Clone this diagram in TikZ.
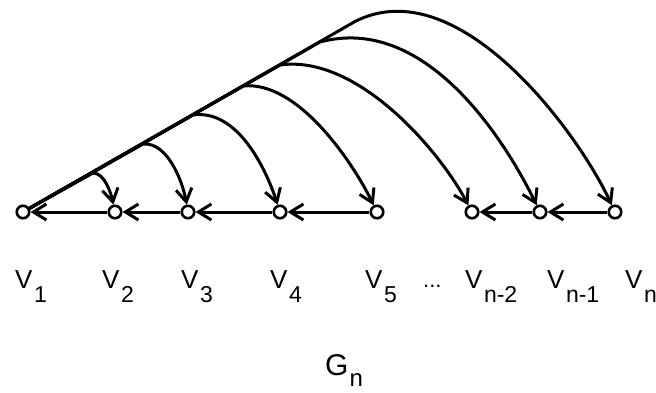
\documentclass[tikz,border=0pt]{standalone}
\usepackage{fontspec}
\setmainfont{Liberation Sans}
\usetikzlibrary{arrows.meta}
\newcommand{\vlab}[1]{\fontsize{26}{26}\selectfont V\kern1.5pt\raisebox{-14pt}{\fontsize{23}{23}\selectfont #1}}
\begin{document}
\begin{tikzpicture}[x=1pt,y=1pt,
  vert/.style={circle,draw,line width=2.6pt,minimum size=12.5pt,inner sep=0pt,fill=white},
  edge/.style={line width=3pt,-{Straight Barb[length=13pt,width=16pt]}},
  lab/.style={anchor=base west,inner sep=0pt}]
\useasboundingbox (0,0) rectangle (656,-392);
% vertices
\node[vert] (v1) at (23,-212) {};
\node[vert] (v2) at (115,-212) {};
\node[vert] (v3) at (188,-212) {};
\node[vert] (v4) at (280,-212) {};
\node[vert] (v5) at (377,-212) {};
\node[vert] (v6) at (472,-212) {};
\node[vert] (v7) at (540,-212) {};
\node[vert] (v8) at (615,-212) {};
% branch points along the main line
\coordinate (b2) at (93,-173);
\coordinate (b3) at (143,-144);
\coordinate (b4) at (193,-115);
\coordinate (b5) at (243,-86);
\coordinate (b6) at (280,-65);
\coordinate (b7) at (320,-42);
\coordinate (b8) at (355,-21.5);
% horizontal edges
\draw[edge] (v2) -- (v1);
\draw[edge] (v3) -- (v2);
\draw[edge] (v4) -- (v3);
\draw[edge] (v5) -- (v4);
\draw[edge] (v7) -- (v6);
\draw[edge] (v8) -- (v7);
% arcs from v1
\draw[edge] (v1) -- (b2) .. controls +(0:12) and +(102:18) .. (v2);
\draw[edge] (v1) -- (b3) .. controls +(5:25) and +(100:30) .. (v3);
\draw[edge] (v1) -- (b4) .. controls +(8:45) and +(108:45) .. (v4);
\draw[edge] (v1) -- (b5) .. controls +(6:55) and +(116:55) .. (v5);
\draw[edge] (v1) -- (b6) .. controls +(8:78) and +(118:70) .. (v6);
\draw[edge] (v1) -- (b7) .. controls +(15:110) and +(116:78) .. (v7);
\draw[edge] (v1) -- (b8) .. controls +(27:115) and +(115:90) .. (v8);
% labels
\node[lab] (l1) at (15,-288) {\vlab{1}};
\node[lab] (l2) at (102,-288) {\vlab{2}};
\node[lab] (l3) at (181,-288) {\vlab{3}};
\node[lab] (l4) at (270,-288) {\vlab{4}};
\node[lab] (l5) at (365,-288) {\vlab{5}};
\node[lab] (ld) at (423,-287) {\fontsize{22}{22}\selectfont ...};
\node[lab] (l6) at (465,-288) {\vlab{n-2}};
\node[lab] (l7) at (547,-288) {\vlab{n-1}};
\node[lab] (l8) at (625,-288) {\vlab{n}};
\node[lab] (g) at (325,-375) {\fontsize{30}{30}\selectfont G\kern1pt\raisebox{-11pt}{\fontsize{24}{24}\selectfont n}};
\end{tikzpicture}
\end{document}
